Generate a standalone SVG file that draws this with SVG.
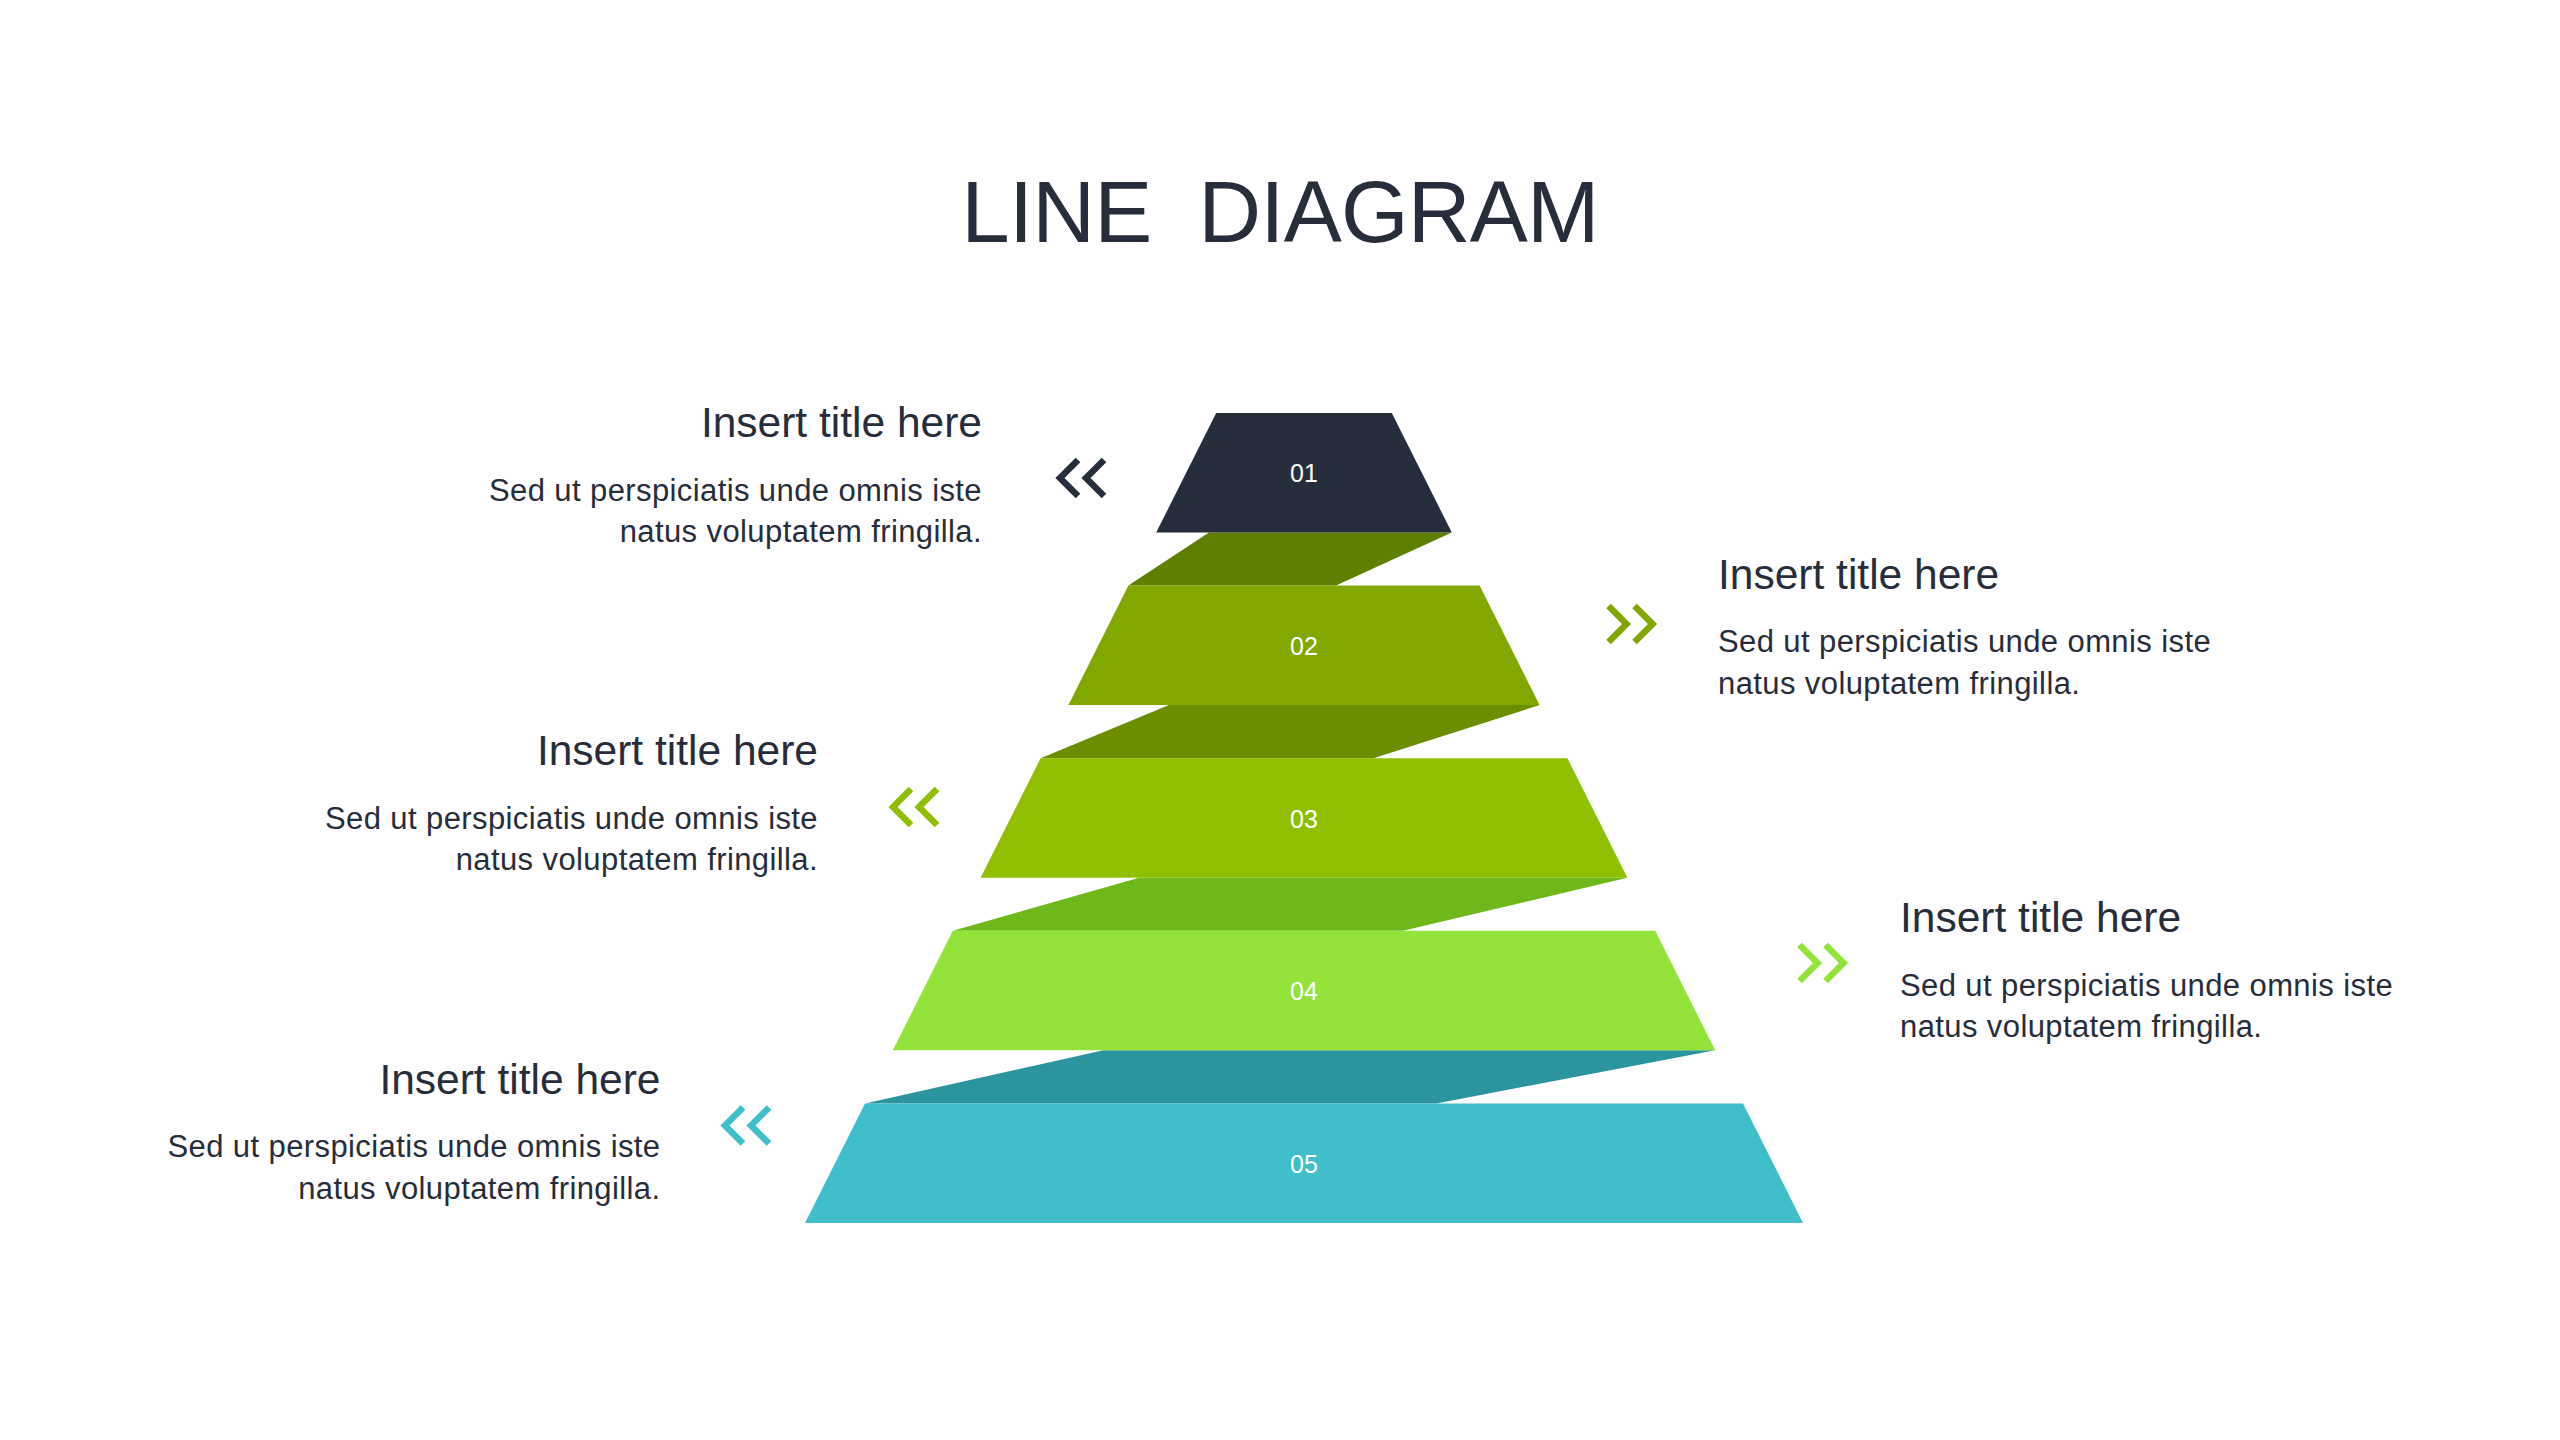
<svg xmlns="http://www.w3.org/2000/svg" width="2560" height="1440" viewBox="0 0 2560 1440">
  <style>
    .ttl { font-family: "Liberation Sans", Arial, sans-serif; font-size: 87px; fill: #272d3a; letter-spacing: -0.8px; white-space: pre; }
    .h { font-family: "Liberation Sans", Arial, sans-serif; font-size: 42.5px; fill: #272d3a; }
    .b { font-family: "Liberation Sans", Arial, sans-serif; font-size: 31px; fill: #272d3a; letter-spacing: 0.4px; }
    .num { font-family: "Liberation Sans", Arial, sans-serif; font-size: 25px; fill: #ffffff; text-anchor: middle; }
    .chev { fill: none; stroke-width: 6.5; stroke-linecap: butt; stroke-linejoin: miter; stroke-miterlimit: 10; }
    .r { text-anchor: end; }
  </style>
  <rect width="2560" height="1440" fill="#ffffff"/>

  <text id="title" class="ttl" x="1280" y="242" text-anchor="middle" xml:space="preserve">LINE  DIAGRAM</text>

  <g id="connectors">
    <polygon points="1209,532.5 1451.8,532.5 1336,585.6 1128.4,585.6" fill="#5f7f00"/>
    <polygon points="1169,705.1 1539.6,705.1 1373.6,758.2 1040.6,758.2" fill="#6a8e00"/>
    <polygon points="1139,877.7 1627.4,877.7 1403,930.8 952.8,930.8" fill="#6eb81c"/>
    <polygon points="1103.5,1050.3 1715.2,1050.3 1436.4,1103.4 865,1103.4" fill="#2c949e"/>
  </g>

  <g id="tier1">
    <polygon points="1216.2,413 1391.8,413 1451.8,532.5 1156.2,532.5" fill="#272e3b"/>
    <text class="num" x="1304" y="482">01</text>
  </g>
  <g id="tier2">
    <polygon points="1128.4,585.6 1479.6,585.6 1539.6,705.1 1068.4,705.1" fill="#82a800"/>
    <text class="num" x="1304" y="654.5">02</text>
  </g>
  <g id="tier3">
    <polygon points="1040.6,758.2 1567.4,758.2 1627.4,877.7 980.6,877.7" fill="#8fbf00"/>
    <text class="num" x="1304" y="827.5">03</text>
  </g>
  <g id="tier4">
    <polygon points="952.8,930.8 1655.2,930.8 1715.2,1050.3 892.8,1050.3" fill="#94e33a"/>
    <text class="num" x="1304" y="1000">04</text>
  </g>
  <g id="tier5">
    <polygon points="865,1103.4 1743,1103.4 1803,1222.9 805,1222.9" fill="#40bfca"/>
    <text class="num" x="1304" y="1172.5">05</text>
  </g>

  <g id="block1">
    <text class="h r" x="982" y="437">Insert title here</text>
    <text class="b r" x="982" y="500.5">Sed ut perspiciatis unde omnis iste</text>
    <text class="b r" x="982" y="542">natus voluptatem fringilla.</text>
    <polyline class="chev" stroke="#272e3b" points="1078,460 1060,478 1078,496"/>
    <polyline class="chev" stroke="#272e3b" points="1104,460 1086,478 1104,496"/>
  </g>
  <g id="block2">
    <text class="h" x="1718" y="588.5">Insert title here</text>
    <text class="b" x="1718" y="652">Sed ut perspiciatis unde omnis iste</text>
    <text class="b" x="1718" y="693.5">natus voluptatem fringilla.</text>
    <polyline class="chev" stroke="#82a800" points="1608.5,606 1626.5,624 1608.5,642"/>
    <polyline class="chev" stroke="#82a800" points="1634.5,606 1652.5,624 1634.5,642"/>
  </g>
  <g id="block3">
    <text class="h r" x="818" y="765">Insert title here</text>
    <text class="b r" x="818" y="828.5">Sed ut perspiciatis unde omnis iste</text>
    <text class="b r" x="818" y="870">natus voluptatem fringilla.</text>
    <polyline class="chev" stroke="#8fbf00" points="911,789 893,807 911,825"/>
    <polyline class="chev" stroke="#8fbf00" points="937,789 919,807 937,825"/>
  </g>
  <g id="block4">
    <text class="h" x="1900" y="932">Insert title here</text>
    <text class="b" x="1900" y="995.5">Sed ut perspiciatis unde omnis iste</text>
    <text class="b" x="1900" y="1037">natus voluptatem fringilla.</text>
    <polyline class="chev" stroke="#94e33a" points="1799.5,945 1817.5,963 1799.5,981"/>
    <polyline class="chev" stroke="#94e33a" points="1825.5,945 1843.5,963 1825.5,981"/>
  </g>
  <g id="block5">
    <text class="h r" x="660.5" y="1093.5">Insert title here</text>
    <text class="b r" x="660.5" y="1157">Sed ut perspiciatis unde omnis iste</text>
    <text class="b r" x="660.5" y="1198.5">natus voluptatem fringilla.</text>
    <polyline class="chev" stroke="#40bfca" points="743,1107.5 725,1125.5 743,1143.5"/>
    <polyline class="chev" stroke="#40bfca" points="769,1107.5 751,1125.5 769,1143.5"/>
  </g>
</svg>
